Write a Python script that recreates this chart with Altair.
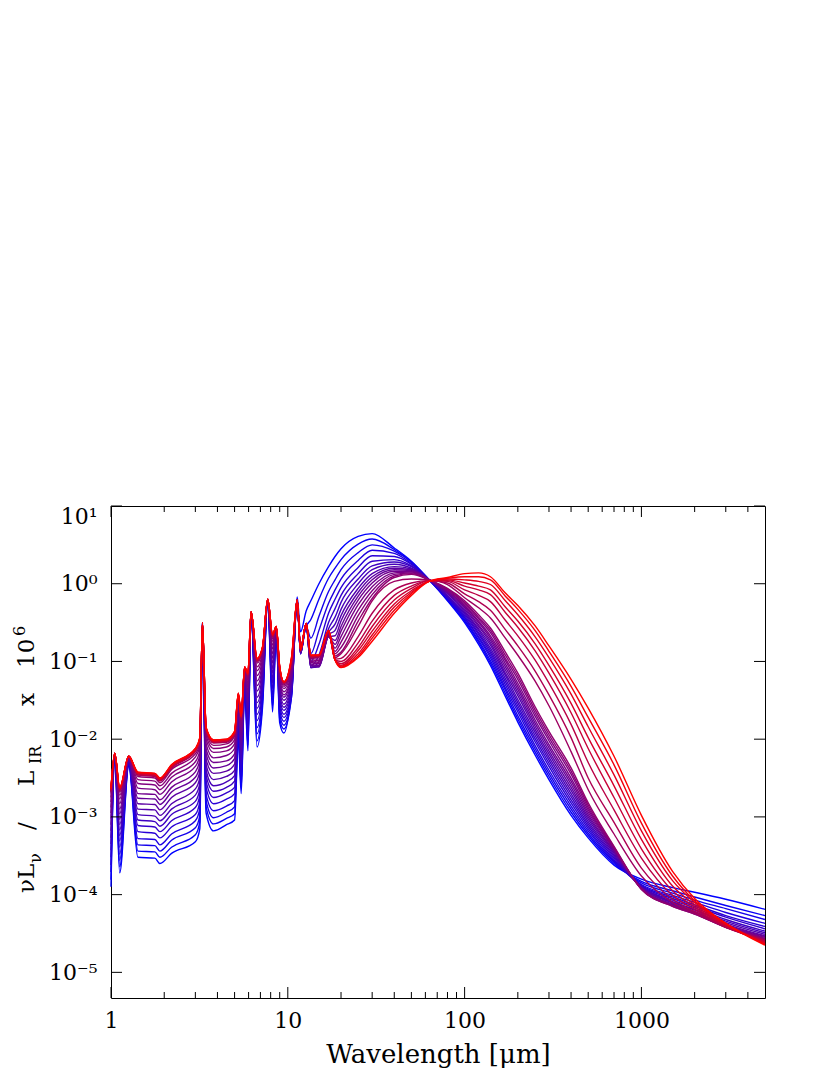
import json
import altair as alt
import pandas as pd

# ---------------- data (log10 of nuL_nu / L_IR x 1e6) ----------------
WAVELENGTH = [1.0, 1.05, 1.12, 1.26, 1.42, 1.77, 1.89, 2.2, 3.0, 3.18,
              3.29, 3.45, 3.8, 4.5, 5.0, 5.25, 5.45, 5.7, 5.95, 6.2, 6.7, 7.2, 7.7, 8.2, 8.6, 9.0, 9.5,
              10.5, 11.3, 11.8, 12.7, 13.5, 15, 17, 18.5, 20, 25, 30, 40, 50, 63,
              80, 100, 120, 140, 170, 200, 250, 300, 400, 500, 700, 1000, 1500, 2000, 3000, 5000]

# colour parameter of each template (0 = blue, 1 = red)
CURVE_PARAM = [0.00, 0.04, 0.08, 0.12, 0.16, 0.20, 0.24, 0.28, 0.32, 0.36, 0.40, 0.44,
               0.47, 0.50, 0.53, 0.56, 0.62, 0.68, 0.73, 0.78, 0.83, 0.88, 0.94, 1.00]

c00 = [-3.90, -2.25, -3.72, -2.35, -3.52, -3.53, -3.60, -3.47, -3.32, -3.15,
       -0.53, -2.95, -3.18, -3.10, -3.04, -2.00, -2.70, -1.35, -2.15, -0.40, -2.10, -1.58, -0.24, -1.65, -0.62, -1.79, -1.92,
       -1.32, -0.17, -0.62, -0.35, -0.22, 0.00, 0.22, 0.35, 0.45, 0.61, 0.645, 0.46, 0.29, 0.05,
       -0.22, -0.50, -0.78, -1.05, -1.45, -1.78, -2.20, -2.52, -2.98, -3.27, -3.62, -3.80, -3.91, -3.97, -4.06, -4.19]
c01 = [-3.81, -2.25, -3.64, -2.34, -3.44, -3.45, -3.52, -3.39, -3.23, -3.06,
       -0.52, -2.87, -3.09, -3.02, -2.96, -1.96, -2.63, -1.33, -2.08, -0.39, -2.02, -1.52, -0.23, -1.58, -0.61, -1.74, -1.87,
       -1.45, -0.20, -0.80, -0.55, -0.46, -0.20, 0.07, 0.20, 0.31, 0.51, 0.575, 0.44, 0.28, 0.05,
       -0.21, -0.48, -0.75, -1.02, -1.41, -1.74, -2.16, -2.48, -2.94, -3.24, -3.60, -3.83, -3.95, -4.03, -4.14, -4.27]
c02 = [-3.71, -2.24, -3.56, -2.33, -3.36, -3.37, -3.44, -3.30, -3.14, -2.98,
       -0.52, -2.79, -3.01, -2.94, -2.87, -1.91, -2.55, -1.31, -2.00, -0.39, -1.93, -1.47, -0.23, -1.50, -0.61, -1.68, -1.82,
       -1.45, -0.21, -0.88, -0.55, -0.70, -0.42, -0.10, 0.05, 0.18, 0.40, 0.50, 0.42, 0.28, 0.05,
       -0.20, -0.46, -0.73, -0.99, -1.37, -1.70, -2.12, -2.44, -2.90, -3.21, -3.58, -3.85, -3.98, -4.07, -4.18, -4.32]
c03 = [-3.62, -2.23, -3.48, -2.32, -3.28, -3.29, -3.36, -3.22, -3.05, -2.89,
       -0.52, -2.71, -2.92, -2.86, -2.79, -1.87, -2.48, -1.29, -1.93, -0.39, -1.85, -1.41, -0.23, -1.43, -0.60, -1.63, -1.77,
       -1.42, -0.21, -0.90, -0.55, -0.90, -0.60, -0.25, -0.08, 0.06, 0.30, 0.43, 0.39, 0.26, 0.05,
       -0.19, -0.44, -0.70, -0.95, -1.34, -1.65, -2.08, -2.40, -2.86, -3.18, -3.57, -3.87, -4.01, -4.10, -4.23, -4.37]
c04 = [-3.52, -2.23, -3.39, -2.31, -3.19, -3.21, -3.27, -3.13, -2.97, -2.80,
       -0.52, -2.62, -2.83, -2.77, -2.70, -1.83, -2.40, -1.27, -1.85, -0.38, -1.76, -1.35, -0.23, -1.35, -0.60, -1.58, -1.72,
       -1.40, -0.21, -0.90, -0.54, -1.00, -0.78, -0.38, -0.20, -0.05, 0.21, 0.36, 0.35, 0.25, 0.05,
       -0.18, -0.43, -0.68, -0.92, -1.30, -1.61, -2.03, -2.35, -2.82, -3.15, -3.55, -3.88, -4.03, -4.13, -4.27, -4.41]
c05 = [-3.43, -2.22, -3.31, -2.30, -3.11, -3.13, -3.19, -3.05, -2.88, -2.72,
       -0.51, -2.54, -2.75, -2.69, -2.62, -1.78, -2.33, -1.25, -1.78, -0.38, -1.68, -1.30, -0.22, -1.28, -0.59, -1.52, -1.68,
       -1.38, -0.21, -0.90, -0.54, -1.05, -0.92, -0.50, -0.32, -0.15, 0.13, 0.29, 0.31, 0.23, 0.05,
       -0.17, -0.41, -0.65, -0.89, -1.26, -1.57, -1.99, -2.31, -2.78, -3.12, -3.53, -3.89, -4.05, -4.15, -4.29, -4.44]
c06 = [-3.35, -2.22, -3.24, -2.29, -3.04, -3.06, -3.12, -2.97, -2.80, -2.64,
       -0.51, -2.47, -2.67, -2.62, -2.54, -1.74, -2.27, -1.23, -1.72, -0.38, -1.60, -1.25, -0.22, -1.22, -0.59, -1.48, -1.63,
       -1.34, -0.21, -0.90, -0.53, -1.08, -1.00, -0.58, -0.43, -0.24, 0.06, 0.23, 0.28, 0.22, 0.05,
       -0.16, -0.39, -0.63, -0.86, -1.22, -1.53, -1.95, -2.27, -2.74, -3.09, -3.51, -3.90, -4.07, -4.17, -4.32, -4.47]
c07 = [-3.27, -2.22, -3.17, -2.29, -2.97, -2.99, -3.05, -2.90, -2.72, -2.57,
       -0.51, -2.40, -2.60, -2.55, -2.47, -1.71, -2.20, -1.21, -1.65, -0.38, -1.53, -1.20, -0.22, -1.15, -0.59, -1.43, -1.59,
       -1.30, -0.21, -0.89, -0.53, -1.08, -1.05, -0.63, -0.52, -0.33, 0.00, 0.18, 0.25, 0.20, 0.05,
       -0.15, -0.37, -0.60, -0.83, -1.18, -1.49, -1.91, -2.23, -2.70, -3.06, -3.49, -3.90, -4.09, -4.19, -4.34, -4.49]
c08 = [-3.18, -2.21, -3.10, -2.28, -2.90, -2.91, -2.98, -2.83, -2.64, -2.49,
       -0.51, -2.33, -2.52, -2.48, -2.40, -1.67, -2.14, -1.19, -1.59, -0.38, -1.46, -1.14, -0.22, -1.09, -0.58, -1.38, -1.55,
       -1.26, -0.21, -0.89, -0.53, -1.08, -1.07, -0.66, -0.60, -0.41, -0.06, 0.13, 0.22, 0.19, 0.05,
       -0.13, -0.35, -0.58, -0.79, -1.15, -1.44, -1.87, -2.19, -2.66, -3.03, -3.47, -3.91, -4.10, -4.20, -4.36, -4.51]
c09 = [-3.10, -2.21, -3.03, -2.27, -2.83, -2.84, -2.91, -2.75, -2.56, -2.41,
       -0.51, -2.26, -2.44, -2.41, -2.32, -1.63, -2.07, -1.17, -1.52, -0.37, -1.38, -1.09, -0.22, -1.02, -0.58, -1.34, -1.50,
       -1.23, -0.21, -0.88, -0.52, -1.06, -1.07, -0.68, -0.67, -0.48, -0.11, 0.09, 0.20, 0.18, 0.05,
       -0.12, -0.33, -0.55, -0.76, -1.11, -1.40, -1.83, -2.15, -2.62, -3.00, -3.45, -3.91, -4.11, -4.22, -4.38, -4.53]
c10 = [-3.02, -2.20, -2.96, -2.26, -2.76, -2.77, -2.84, -2.68, -2.49, -2.34,
       -0.51, -2.19, -2.37, -2.34, -2.25, -1.59, -2.01, -1.16, -1.46, -0.37, -1.31, -1.05, -0.22, -0.96, -0.57, -1.29, -1.46,
       -1.19, -0.21, -0.88, -0.52, -1.05, -1.06, -0.68, -0.73, -0.55, -0.16, 0.05, 0.18, 0.17, 0.05,
       -0.11, -0.31, -0.53, -0.73, -1.07, -1.36, -1.79, -2.11, -2.58, -2.97, -3.44, -3.92, -4.12, -4.22, -4.39, -4.54]
c11 = [-2.95, -2.20, -2.90, -2.25, -2.70, -2.71, -2.78, -2.62, -2.42, -2.27,
       -0.50, -2.13, -2.30, -2.28, -2.19, -1.56, -1.95, -1.14, -1.40, -0.37, -1.25, -1.00, -0.21, -0.90, -0.57, -1.25, -1.43,
       -1.16, -0.21, -0.87, -0.52, -1.03, -1.05, -0.68, -0.78, -0.61, -0.21, 0.01, 0.16, 0.16, 0.05,
       -0.10, -0.29, -0.50, -0.70, -1.03, -1.32, -1.75, -2.07, -2.54, -2.94, -3.42, -3.92, -4.13, -4.23, -4.40, -4.55]
c12 = [-2.88, -2.19, -2.83, -2.25, -2.63, -2.65, -2.71, -2.55, -2.35, -2.21,
       -0.50, -2.06, -2.24, -2.21, -2.12, -1.52, -1.89, -1.12, -1.34, -0.37, -1.18, -0.96, -0.21, -0.84, -0.56, -1.21, -1.39,
       -1.13, -0.21, -0.87, -0.52, -1.01, -1.03, -0.67, -0.83, -0.68, -0.27, -0.04, 0.14, 0.15, 0.05,
       -0.09, -0.28, -0.48, -0.67, -0.99, -1.28, -1.70, -2.02, -2.50, -2.91, -3.41, -3.92, -4.14, -4.24, -4.41, -4.56]
c13 = [-2.81, -2.19, -2.77, -2.24, -2.57, -2.59, -2.65, -2.49, -2.29, -2.14,
       -0.50, -2.00, -2.17, -2.15, -2.06, -1.49, -1.84, -1.11, -1.29, -0.37, -1.12, -0.92, -0.21, -0.79, -0.56, -1.17, -1.35,
       -1.10, -0.21, -0.87, -0.52, -1.00, -1.01, -0.66, -0.87, -0.75, -0.34, -0.09, 0.12, 0.14, 0.05,
       -0.08, -0.26, -0.45, -0.63, -0.96, -1.23, -1.66, -1.98, -2.45, -2.88, -3.40, -3.93, -4.14, -4.24, -4.41, -4.565]
c14 = [-2.75, -2.19, -2.72, -2.23, -2.52, -2.54, -2.60, -2.44, -2.23, -2.09,
       -0.50, -1.95, -2.12, -2.10, -2.01, -1.46, -1.79, -1.10, -1.24, -0.36, -1.07, -0.88, -0.21, -0.74, -0.56, -1.14, -1.32,
       -1.07, -0.21, -0.86, -0.51, -0.98, -0.99, -0.65, -0.90, -0.82, -0.41, -0.14, 0.10, 0.13, 0.05,
       -0.07, -0.24, -0.43, -0.60, -0.92, -1.19, -1.62, -1.94, -2.41, -2.85, -3.39, -3.93, -4.15, -4.25, -4.42, -4.57]
c15 = [-2.70, -2.18, -2.68, -2.23, -2.48, -2.50, -2.56, -2.39, -2.19, -2.05,
       -0.50, -1.91, -2.08, -2.06, -1.96, -1.44, -1.76, -1.09, -1.21, -0.36, -1.02, -0.85, -0.21, -0.71, -0.56, -1.11, -1.30,
       -1.05, -0.21, -0.86, -0.51, -0.96, -0.97, -0.64, -0.93, -0.88, -0.48, -0.19, 0.08, 0.12, 0.05,
       -0.06, -0.22, -0.40, -0.57, -0.88, -1.15, -1.58, -1.90, -2.37, -2.82, -3.38, -3.93, -4.15, -4.25, -4.42, -4.575]
c16 = [-2.68, -2.18, -2.66, -2.22, -2.46, -2.48, -2.54, -2.37, -2.16, -2.02,
       -0.50, -1.89, -2.05, -2.04, -1.94, -1.43, -1.74, -1.08, -1.19, -0.36, -1.00, -0.84, -0.20, -0.69, -0.56, -1.10, -1.28,
       -1.02, -0.21, -0.86, -0.51, -0.95, -0.95, -0.63, -0.95, -0.90, -0.55, -0.22, 0.03, 0.06, 0.05,
       -0.01, -0.18, -0.31, -0.44, -0.70, -0.92, -1.25, -1.57, -2.16, -2.65, -3.22, -3.76, -4.10, -4.24, -4.42, -4.58]
c17 = [-2.67, -2.18, -2.66, -2.22, -2.46, -2.47, -2.53, -2.36, -2.15, -2.01,
       -0.50, -1.88, -2.04, -2.03, -1.93, -1.43, -1.73, -1.08, -1.18, -0.36, -0.99, -0.83, -0.20, -0.68, -0.56, -1.09, -1.28,
       -1.00, -0.21, -0.86, -0.51, -0.94, -0.94, -0.62, -0.97, -0.96, -0.68, -0.38, -0.08, 0.01, 0.04,
       0.01, -0.13, -0.23, -0.34, -0.59, -0.80, -1.12, -1.43, -1.98, -2.50, -3.07, -3.66, -4.06, -4.22, -4.42, -4.59]
c18 = [-2.66, -2.18, -2.65, -2.22, -2.45, -2.47, -2.53, -2.36, -2.15, -2.01,
       -0.50, -1.87, -2.04, -2.02, -1.93, -1.42, -1.72, -1.08, -1.17, -0.36, -0.99, -0.83, -0.20, -0.67, -0.56, -1.09, -1.27,
       -0.99, -0.21, -0.85, -0.51, -0.94, -0.93, -0.62, -0.98, -1.00, -0.76, -0.48, -0.15, -0.03, 0.04,
       0.03, -0.08, -0.15, -0.23, -0.47, -0.67, -0.98, -1.28, -1.81, -2.30, -2.91, -3.53, -4.01, -4.19, -4.41, -4.60]
c19 = [-2.65, -2.18, -2.64, -2.22, -2.44, -2.46, -2.52, -2.35, -2.14, -2.00,
       -0.50, -1.87, -2.03, -2.02, -1.92, -1.42, -1.72, -1.07, -1.17, -0.36, -0.98, -0.82, -0.20, -0.67, -0.55, -1.08, -1.27,
       -0.98, -0.21, -0.85, -0.51, -0.93, -0.93, -0.61, -0.98, -1.03, -0.82, -0.55, -0.21, -0.06, 0.04,
       0.04, -0.03, -0.08, -0.14, -0.37, -0.56, -0.86, -1.15, -1.66, -2.12, -2.75, -3.41, -3.95, -4.16, -4.40, -4.61]
c20 = [-2.65, -2.18, -2.64, -2.22, -2.44, -2.45, -2.51, -2.34, -2.13, -1.99,
       -0.50, -1.86, -2.02, -2.01, -1.91, -1.42, -1.71, -1.07, -1.16, -0.36, -0.97, -0.82, -0.20, -0.66, -0.55, -1.08, -1.27,
       -0.97, -0.21, -0.85, -0.51, -0.93, -0.92, -0.61, -0.98, -1.05, -0.86, -0.61, -0.26, -0.09, 0.03,
       0.05, 0.01, -0.03, -0.08, -0.30, -0.48, -0.77, -1.05, -1.54, -1.98, -2.60, -3.29, -3.89, -4.13, -4.39, -4.62]
c21 = [-2.64, -2.18, -2.63, -2.22, -2.43, -2.45, -2.51, -2.34, -2.13, -1.99,
       -0.50, -1.86, -2.02, -2.01, -1.91, -1.41, -1.71, -1.07, -1.16, -0.36, -0.97, -0.82, -0.20, -0.66, -0.55, -1.08, -1.26,
       -0.96, -0.21, -0.85, -0.51, -0.92, -0.92, -0.60, -0.98, -1.06, -0.90, -0.66, -0.30, -0.11, 0.03,
       0.06, 0.05, 0.03, -0.01, -0.22, -0.40, -0.68, -0.95, -1.42, -1.84, -2.46, -3.18, -3.82, -4.10, -4.38, -4.63]
c22 = [-2.64, -2.18, -2.62, -2.22, -2.43, -2.44, -2.50, -2.33, -2.12, -1.98,
       -0.50, -1.85, -2.01, -2.00, -1.90, -1.41, -1.70, -1.07, -1.15, -0.36, -0.96, -0.81, -0.20, -0.65, -0.55, -1.07, -1.26,
       -0.95, -0.21, -0.85, -0.51, -0.92, -0.92, -0.60, -0.98, -1.07, -0.93, -0.70, -0.34, -0.13, 0.03,
       0.07, 0.09, 0.09, 0.05, -0.16, -0.33, -0.60, -0.87, -1.32, -1.72, -2.33, -3.08, -3.76, -4.08, -4.37, -4.64]
c23 = [-2.63, -2.18, -2.62, -2.22, -2.42, -2.44, -2.50, -2.33, -2.12, -1.98,
       -0.50, -1.85, -2.01, -2.00, -1.90, -1.41, -1.70, -1.07, -1.15, -0.36, -0.96, -0.81, -0.20, -0.65, -0.55, -1.07, -1.26,
       -0.94, -0.21, -0.85, -0.51, -0.92, -0.92, -0.60, -0.98, -1.08, -0.95, -0.74, -0.38, -0.15, 0.03,
       0.08, 0.13, 0.14, 0.09, -0.12, -0.28, -0.54, -0.80, -1.23, -1.60, -2.22, -2.98, -3.70, -4.05, -4.37, -4.65]

CURVES = [c00, c01, c02, c03, c04, c05, c06, c07, c08, c09, c10, c11,
          c12, c13, c14, c15, c16, c17, c18, c19, c20, c21, c22, c23]

X_MAJOR = [1, 10, 100, 1000]
X_MINOR = [2, 3, 4, 5, 6, 7, 8, 9, 20, 30, 40, 50, 60, 70, 80, 90,
           200, 300, 400, 500, 600, 700, 800, 900, 2000, 3000, 4000]
Y_MAJOR = [1e-5, 1e-4, 1e-3, 1e-2, 1e-1, 1e0, 1e1]
Y_LABELS = ["10\u207b\u2075", "10\u207b\u2074", "10\u207b\u00b3", "10\u207b\u00b2",
            "10\u207b\u00b9", "10\u2070", "10\u00b9"]
X_TITLE = "Wavelength [\u03bcm]"
# y title pieces, read bottom-to-top: (text, role)
Y_TITLE_PARTS = [("\u03bdL", "main"), ("\u03bd", "sub"), ("/", "main"),
                 ("L", "main"), ("IR", "sub"), ("x", "main"), ("10", "main"), ("6", "sup")]

rows = []
for k, (t, vals) in enumerate(zip(CURVE_PARAM, CURVES)):
    for w, lv in zip(WAVELENGTH, vals):
        rows.append({"curve": f"c{k:02d}", "t": t, "wl": w, "v": 10 ** lv})
df = pd.DataFrame(rows)

FONT = "DejaVu Serif"
W, H = 654, 492
MAJ, MIN = 11, 6
xscale = alt.Scale(type="log", domain=[1, 5000], nice=False)
yscale = alt.Scale(type="log", domain=[10 ** -5.33, 10], nice=False)

y_label_expr = json.dumps(Y_LABELS, ensure_ascii=False) + "[round(log(datum.value)/LN10)+5]"

AX_X = alt.Axis(orient="bottom", values=X_MAJOR, ticks=False, domain=False, grid=False,
                format="d", labelFont=FONT, labelFontSize=22, labelColor="black",
                labelPadding=12, labelFlush=False, labelOverlap=False,
                title=X_TITLE, titleFont=FONT, titleFontSize=26,
                titleFontWeight="normal", titleColor="black", titlePadding=10)
AX_Y = alt.Axis(orient="left", values=Y_MAJOR, ticks=False, domain=False, grid=False,
                labelExpr=y_label_expr, labelFont=FONT, labelFontSize=22,
                labelColor="black", labelPadding=14, labelFlush=False, labelOverlap=False,
                labelBaseline={"condition": {"test": "datum.value > 5", "value": "top"},
                               "value": "middle"},
                title=None)

lines = alt.Chart(df).mark_line(strokeWidth=1.4, interpolate="monotone").encode(
    x=alt.X("wl:Q", scale=xscale, axis=AX_X),
    y=alt.Y("v:Q", scale=yscale, axis=AX_Y),
    color=alt.Color("t:Q", scale=alt.Scale(domain=[0, 1], range=["#0000ff", "#ff0000"],
                                           interpolate="rgb"), legend=None),
    detail="curve:N",
)

# inward tick marks on all four sides
xmaj = pd.DataFrame({"wl": X_MAJOR})
xmin = pd.DataFrame({"wl": X_MINOR})
ymaj = pd.DataFrame({"v": Y_MAJOR})


def xticks(d, y0, y1):
    return alt.Chart(d).mark_rule(color="black", strokeWidth=1).encode(
        x=alt.X("wl:Q", scale=xscale, axis=AX_X), y=alt.value(y0), y2=alt.value(y1))


def yticks(x0, x1):
    return alt.Chart(ymaj).mark_rule(color="black", strokeWidth=1).encode(
        y=alt.Y("v:Q", scale=yscale, axis=AX_Y), x=alt.value(x0), x2=alt.value(x1))


tick_layers = [xticks(xmaj, H, H - MAJ), xticks(xmaj, 0, MAJ),
               xticks(xmin, H, H - MIN), xticks(xmin, 0, MIN),
               yticks(0, MAJ), yticks(W, W - MAJ)]

# rotated y title, built from pieces (positions relative to the plot area)
one = pd.DataFrame({"a": [0]})
piece_y = [387, 357, 324, 280, 258, 200, 162, 130]
piece_x = {"main": -77, "sub": -70, "sup": -86}
piece_size = {"main": 23, "sub": 16, "sup": 16}
title_layers = []
for (txt, role), py in zip(Y_TITLE_PARTS, piece_y):
    title_layers.append(
        alt.Chart(one).mark_text(angle=270, align="left", baseline="alphabetic", font=FONT,
                                 fontSize=piece_size[role], color="black").encode(
            x=alt.value(piece_x[role]), y=alt.value(py), text=alt.value(txt)))

chart = alt.layer(lines, *tick_layers, *title_layers).properties(
    width=W, height=H, autosize=alt.AutoSizeParams(type="none"),
    padding={"left": 103, "top": 498, "right": 57, "bottom": 74},
).configure_view(stroke="black", strokeWidth=1)

chart.save("out.html", embed_options={"renderer": "svg", "actions": False})
